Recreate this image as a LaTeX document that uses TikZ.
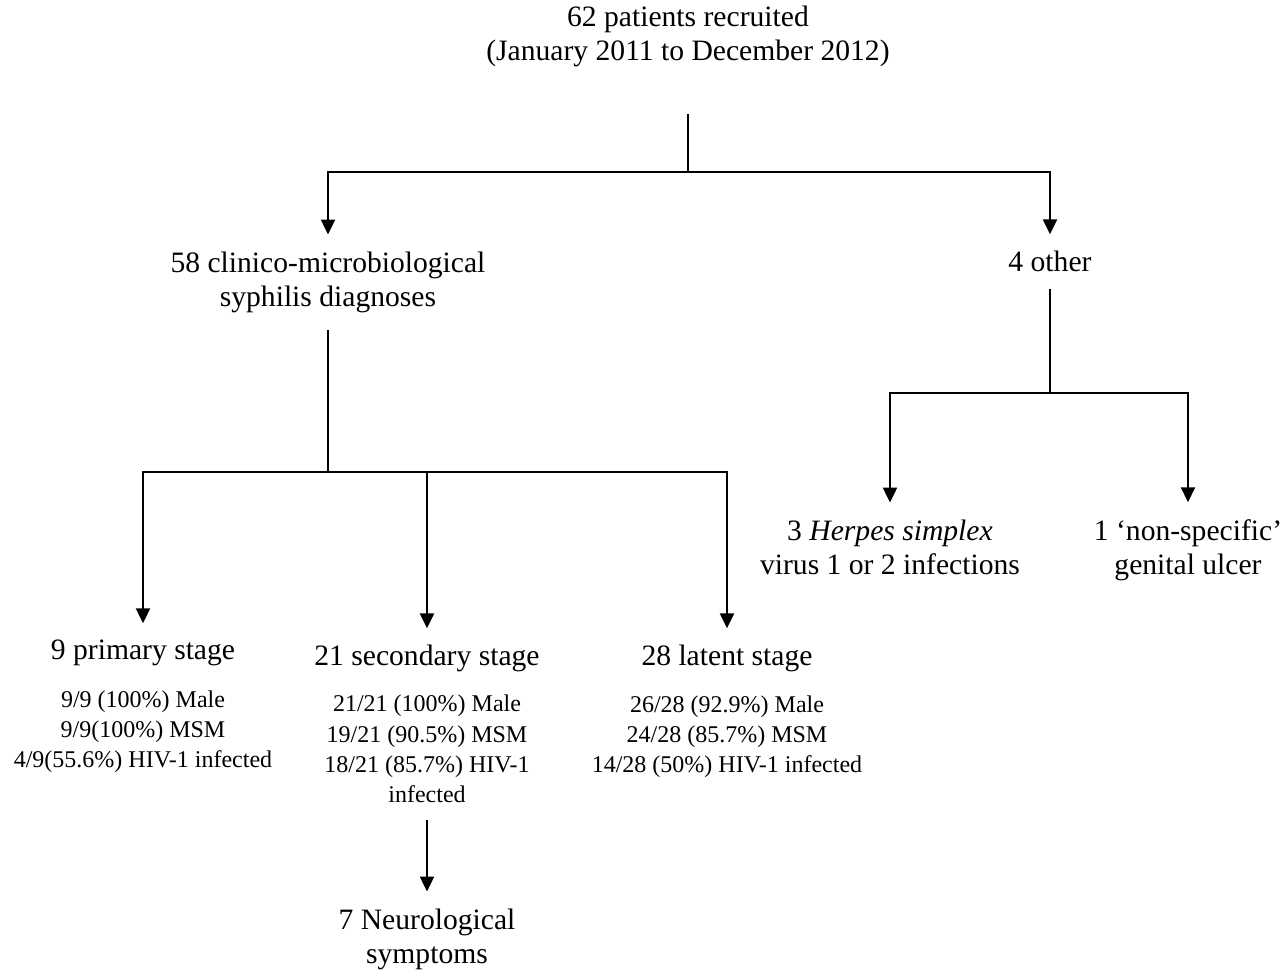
\documentclass[tikz,border=0pt]{standalone}
\usepackage{fontspec}
\setmainfont{Liberation Serif}
\usetikzlibrary{arrows.meta,positioning}

\begin{document}
\begin{tikzpicture}[x=0.5pt,y=-0.5pt,->,>={Triangle[width=7pt,length=7.5pt]},line width=1.1pt,
  lbl/.style={font=\fontsize{14.8}{17.4}\selectfont,align=center,inner sep=8pt,anchor=base},
  stats/.style={font=\fontsize{12}{15.2}\selectfont,align=center,inner sep=8pt,anchor=base}]

  \useasboundingbox (0,0) rectangle (1282,972);

  % The tree
  \node [lbl] at (688,61) (all) {62 patients recruited\\(January 2011 to December 2012)};
  \node [lbl] at (328,307) (syph) {58 clinico-microbiological\\syphilis diagnoses};
  \node [lbl] at (1050,272) (other) {4 other};

  \node [lbl] at (143,660) (prim) {9 primary stage};
  \node [lbl] at (427,666) (sec) {21 secondary stage};
  \node [lbl] at (727,666) (lat) {28 latent stage};

  \node [lbl] at (890,575) (hsv) {3 \textit{Herpes simplex}\\virus 1 or 2 infections};
  \node [lbl] at (1188,575) (nonspec) {1 `non-specific'\\genital ulcer};

  % Stage details
  \node [stats] at (143,768) (primstats) {9/9 (100\%) Male\\9/9(100\%) MSM\\4/9(55.6\%) HIV-1 infected};
  \node [stats] at (427,803) (secstats) {21/21 (100\%) Male\\19/21 (90.5\%) MSM\\18/21 (85.7\%) HIV-1\\infected};
  \node [stats] at (727,773) (latstats) {26/28 (92.9\%) Male\\24/28 (85.7\%) MSM\\14/28 (50\%) HIV-1 infected};

  \node [lbl] at (427,964) (neuro) {7 Neurological\\symptoms};

  % Branch points
  \coordinate (b1) at (688,172);
  \coordinate (b2) at (328,472);
  \coordinate (b3) at (1050,393);

  % Tree edges
  \draw[-] ([yshift=-15pt]all.south) -- (b1);
  \draw (b1) -| (syph);
  \draw (b1) -| (other);

  \draw[-] (syph) -- (b2);
  \draw (b2) -| (prim);
  \draw (b2 -| sec) -- (sec);
  \draw (b2) -| (lat);

  \draw[-] (other) -- (b3);
  \draw (b3) -| (hsv);
  \draw (b3) -| (nonspec);

  \draw (secstats) -- (neuro);

\end{tikzpicture}
\end{document}
